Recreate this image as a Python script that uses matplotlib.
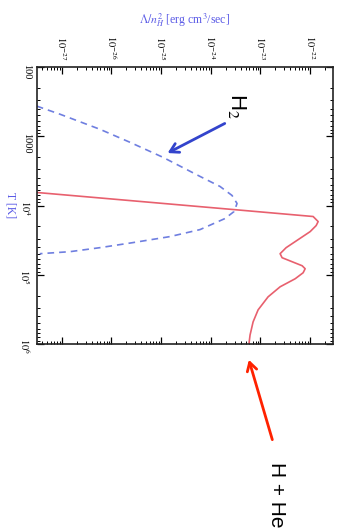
import matplotlib
matplotlib.use('Agg')
import matplotlib.pyplot as plt
from matplotlib.ticker import NullFormatter, LogLocator
import numpy as np

plt.rcParams['font.family'] = ['Liberation Serif', 'DejaVu Serif']
plt.rcParams['mathtext.fontset'] = 'stix'

# H + He cooling curve (log10 T [K], log10 Lambda/n_H^2)
hhe_logT = [3.812, 4.058, 4.159, 4.232, 4.290, 4.377, 4.493, 4.609, 4.696, 4.754,
            4.812, 4.870, 4.913, 4.971, 5.058, 5.174, 5.319, 5.507, 5.681, 5.870, 5.986]
hhe_logL = [-27.504, -23.552, -21.940, -21.839, -21.879, -22.000, -22.242, -22.484, -22.605, -22.565,
            -22.363, -22.161, -22.101, -22.141, -22.302, -22.605, -22.847, -23.048, -23.149, -23.210, -23.230]

# H2 cooling curve
h2_logT = [2.565, 2.681, 2.899, 3.087, 3.304, 3.580, 3.725, 3.855, 3.971, 4.087,
           4.188, 4.348, 4.449, 4.536, 4.609, 4.667, 4.696]
h2_logL = [-27.504, -27.040, -26.234, -25.629, -24.964, -24.218, -23.815, -23.573, -23.472, -23.532,
           -23.714, -24.218, -24.823, -25.569, -26.234, -26.839, -27.444]

lam_ticks = [-27, -26, -25, -24, -23, -22]
T_ticks = [2, 3, 4, 5, 6]
T_tick_labels = ['100', '1000', r'$10^4$', r'$10^5$', r'$10^6$']

W, H = 342, 531
fig = plt.figure(figsize=(W / 100, H / 100), dpi=100)
ax = fig.add_axes([37 / W, 1 - 344 / H, (333 - 37) / W, (344 - 67) / H])
ax.set_xscale('log')
ax.set_yscale('log')

ax.plot(10.0 ** np.array(hhe_logL), 10.0 ** np.array(hhe_logT), color='#e8606e', lw=1.2)
ax.plot(10.0 ** np.array(h2_logL), 10.0 ** np.array(h2_logT), color='#6f7fe0', lw=1.2,
        dashes=(4, 3))

ax.set_xlim(10 ** -27.5, 10 ** -21.54)
ax.set_ylim(1e6, 1e2)

ax.set_xticks([10.0 ** e for e in lam_ticks])
ax.set_xticklabels([r'$10^{%d}$' % e for e in lam_ticks])
ax.set_yticks([10.0 ** e for e in T_ticks])
ax.set_yticklabels(T_tick_labels)
ax.xaxis.set_minor_locator(LogLocator(subs=np.arange(2, 10)))
ax.yaxis.set_minor_locator(LogLocator(subs=np.arange(2, 10)))
ax.xaxis.set_minor_formatter(NullFormatter())
ax.yaxis.set_minor_formatter(NullFormatter())

ax.tick_params(axis='x', which='both', direction='in', top=True, bottom=True,
               labeltop=True, labelbottom=False, labelrotation=-90, labelsize=7.5, pad=5)
ax.tick_params(axis='y', which='both', direction='in', left=True, right=True,
               labelleft=True, labelrotation=-90, labelsize=7.5, pad=4)
ax.tick_params(which='major', length=5, width=0.9)
ax.tick_params(which='minor', length=2.5, width=0.7)
for s in ax.spines.values():
    s.set_linewidth(1.2)
    s.set_color('#222222')

fig.text(185 / W, 1 - 20 / H, r'$\Lambda/n_H^2$ [erg cm$^3$/sec]', color='#5a5ae6',
         ha='center', va='center', fontsize=8.5)
fig.text(10 / W, 1 - 205 / H, 'T [K]', color='#5a5ae6', rotation=-90,
         ha='center', va='center', fontsize=8.5)

# annotations
ax.annotate('', xy=(10 ** -24.92, 10 ** 3.261), xytext=(10 ** -23.67, 10 ** 2.797),
            arrowprops=dict(arrowstyle='->,head_length=0.6,head_width=0.35', color='#3344cc', lw=2))
ax.text(10 ** -23.47, 10 ** 2.56, r'H$_2$', rotation=-90, ha='center', va='center',
        fontsize=16, family=['Liberation Sans', 'DejaVu Sans'])
ax.annotate('', xy=(10 ** -23.25, 10 ** 6.19), xytext=(10 ** -22.746, 10 ** 7.42),
            arrowprops=dict(arrowstyle='->,head_length=0.6,head_width=0.35', color='#ff2200', lw=2),
            annotation_clip=False)
ax.text(10 ** -22.685, 10 ** 8.17, 'H + He', rotation=-90, ha='center', va='center',
        fontsize=15, family=['Liberation Sans', 'DejaVu Sans'], clip_on=False)

fig.savefig('out.png', dpi=100)
